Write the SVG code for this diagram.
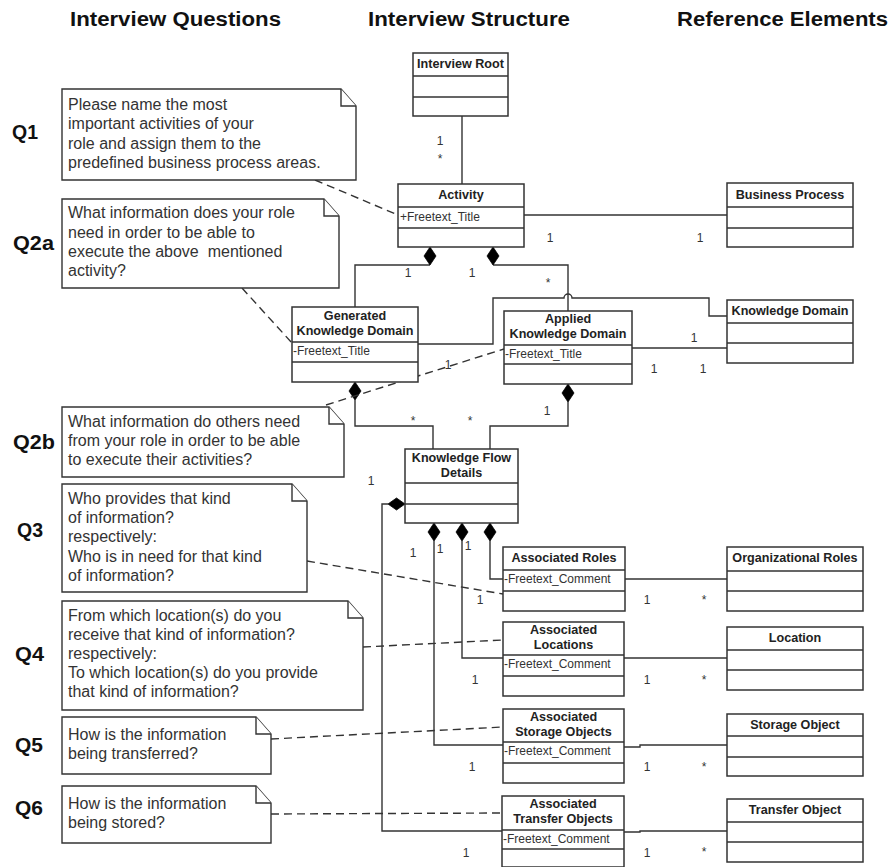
<svg xmlns="http://www.w3.org/2000/svg" width="893" height="867" viewBox="0 0 893 867">
<style>
  .hdr { font-family: "Liberation Sans", Arial, sans-serif; font-weight: bold; font-size: 20px; fill: #111; }
  .q { font-family: "Liberation Sans", Arial, sans-serif; font-weight: bold; font-size: 20px; fill: #111; }
  .nt { font-family: "Liberation Sans", Arial, sans-serif; font-size: 16px; fill: #333; }
  .ttl { font-family: "Liberation Sans", Arial, sans-serif; font-weight: bold; font-size: 12.6px; fill: #222; text-anchor: middle; }
  .att { font-family: "Liberation Sans", Arial, sans-serif; font-size: 12px; fill: #333; }
  .m { font-family: "Liberation Sans", Arial, sans-serif; font-size: 12px; fill: #333; text-anchor: middle; }
  .box { fill: #fff; stroke: #333; stroke-width: 1.5; }
  .div { stroke: #333; stroke-width: 1.5; }
  .note { fill: #fff; stroke: #333; stroke-width: 1.4; stroke-linejoin: miter; }
  .line { fill: none; stroke: #333; stroke-width: 1.4; }
  .dash { fill: none; stroke: #333; stroke-width: 1.4; stroke-dasharray: 8 5; }
  .dia { fill: #000; stroke: #000; stroke-width: 0.8; }
</style>

<!-- headers -->
<g id="headers">
  <text class="hdr" x="70" y="26" textLength="211" lengthAdjust="spacingAndGlyphs">Interview Questions</text>
  <text class="hdr" x="368" y="26" textLength="202" lengthAdjust="spacingAndGlyphs">Interview Structure</text>
  <text class="hdr" x="677" y="26" textLength="211" lengthAdjust="spacingAndGlyphs">Reference Elements</text>
</g>

<!-- question labels -->
<g id="qlabels">
  <text class="q" x="12" y="139" textLength="26" lengthAdjust="spacingAndGlyphs">Q1</text>
  <text class="q" x="13" y="250" textLength="41" lengthAdjust="spacingAndGlyphs">Q2a</text>
  <text class="q" x="13" y="449" textLength="42" lengthAdjust="spacingAndGlyphs">Q2b</text>
  <text class="q" x="17" y="537" textLength="26" lengthAdjust="spacingAndGlyphs">Q3</text>
  <text class="q" x="15" y="661" textLength="29" lengthAdjust="spacingAndGlyphs">Q4</text>
  <text class="q" x="15" y="752" textLength="28" lengthAdjust="spacingAndGlyphs">Q5</text>
  <text class="q" x="15" y="815" textLength="28" lengthAdjust="spacingAndGlyphs">Q6</text>
</g>

<!-- connectors -->
<g id="connectors">
  <path class="line" d="M462,116 V184"/>
  <path class="line" d="M524,215 H727"/>
  <path class="line" d="M430,265 H355 V307"/>
  <path class="line" d="M493,265 H568 V311"/>
  <path class="line" d="M418,344 H493 V298 H564 A4,4 0 0 1 572,298 H709 V316 H727"/>
  <path class="line" d="M632,348 H727"/>
  <path class="line" d="M355,400 V426 H433 V449"/>
  <path class="line" d="M568,402 V426 H490 V449"/>
  <path class="line" d="M490,541 V579 H503"/>
  <path class="line" d="M462,541 V658 H503"/>
  <path class="line" d="M434,541 V745 H503"/>
  <path class="line" d="M388,504 H382 V831 H502"/>
  <path class="line" d="M625,579 H727"/>
  <path class="line" d="M624,658 H727"/>
  <path class="line" d="M624,747 H640 V745 H727"/>
  <path class="line" d="M624,832 H640 V831 H727"/>
  <!-- composition diamonds -->
  <path class="dia" d="M430,247 L436,256 L430,265 L424,256 Z"/>
  <path class="dia" d="M493,247 L499,256 L493,265 L487,256 Z"/>
  <path class="dia" d="M355,382 L361,391 L355,400 L349,391 Z"/>
  <path class="dia" d="M568,384 L574,393 L568,402 L562,393 Z"/>
  <path class="dia" d="M434,523 L440,532 L434,541 L428,532 Z"/>
  <path class="dia" d="M462,523 L468,532 L462,541 L456,532 Z"/>
  <path class="dia" d="M490,523 L496,532 L490,541 L484,532 Z"/>
  <path class="dia" d="M405,504 L396.5,510 L388,504 L396.5,498 Z"/>
  <!-- note anchors -->
  <path class="dash" d="M315,180 L398,215"/>
  <path class="dash" d="M242,288 L292,343"/>
  <path class="dash" d="M326,405 L504,349"/>
  <path class="dash" d="M307,561 L503,594"/>
  <path class="dash" d="M363,647 L503,640"/>
  <path class="dash" d="M271,739 L503,727"/>
  <path class="dash" d="M271,814 L502,813"/>
  <!-- multiplicities -->
  <text class="m" x="440" y="145">1</text>
  <text class="m" x="440" y="163">*</text>
  <text class="m" x="550" y="242">1</text>
  <text class="m" x="700" y="242">1</text>
  <text class="m" x="408" y="277">1</text>
  <text class="m" x="472" y="277">1</text>
  <text class="m" x="548" y="287">*</text>
  <text class="m" x="694" y="342">1</text>
  <text class="m" x="654" y="373">1</text>
  <text class="m" x="703" y="373">1</text>
  <text class="m" x="448" y="369">1</text>
  <text class="m" x="413" y="425">*</text>
  <text class="m" x="470" y="425">*</text>
  <text class="m" x="547" y="415">1</text>
  <text class="m" x="371" y="485">1</text>
  <text class="m" x="413" y="557">1</text>
  <text class="m" x="440" y="553">1</text>
  <text class="m" x="468" y="550">1</text>
  <text class="m" x="480" y="604">1</text>
  <text class="m" x="647" y="604">1</text>
  <text class="m" x="704" y="604">*</text>
  <text class="m" x="475" y="684">1</text>
  <text class="m" x="647" y="684">1</text>
  <text class="m" x="704" y="684">*</text>
  <text class="m" x="472" y="771">1</text>
  <text class="m" x="647" y="771">1</text>
  <text class="m" x="704" y="771">*</text>
  <text class="m" x="466" y="857">1</text>
  <text class="m" x="647" y="857">1</text>
  <text class="m" x="704" y="856">*</text>
</g>

<!-- notes -->
<g id="note-q1">
  <path class="note" d="M62,89 H341 L356,106 V180 H62 Z"/>
  <path class="note" d="M341,89 V106 H356" fill="none"/>
  <text class="nt" x="68" y="110">Please name the most</text>
  <text class="nt" x="68" y="129">important activities of your</text>
  <text class="nt" x="68" y="149">role and assign them to the</text>
  <text class="nt" x="68" y="168">predefined business process areas.</text>
</g>
<g id="note-q2a">
  <path class="note" d="M62,199 H324 L339,216 V288 H62 Z"/>
  <path class="note" d="M324,199 V216 H339" fill="none"/>
  <text class="nt" x="68" y="218">What information does your role</text>
  <text class="nt" x="68" y="238">need in order to be able to</text>
  <text class="nt" x="68" y="257" xml:space="preserve">execute the above  mentioned</text>
  <text class="nt" x="68" y="276">activity?</text>
</g>
<g id="note-q2b">
  <path class="note" d="M62,407 H329 L344,424 V477 H62 Z"/>
  <path class="note" d="M329,407 V424 H344" fill="none"/>
  <text class="nt" x="68" y="427">What information do others need</text>
  <text class="nt" x="68" y="446">from your role in order to be able</text>
  <text class="nt" x="68" y="465">to execute their activities?</text>
</g>
<g id="note-q3">
  <path class="note" d="M62,484 H292 L307,501 V592 H62 Z"/>
  <path class="note" d="M292,484 V501 H307" fill="none"/>
  <text class="nt" x="68" y="504">Who provides that kind</text>
  <text class="nt" x="68" y="523">of information?</text>
  <text class="nt" x="68" y="542">respectively:</text>
  <text class="nt" x="68" y="562">Who is in need for that kind</text>
  <text class="nt" x="68" y="581">of information?</text>
</g>
<g id="note-q4">
  <path class="note" d="M62,601 H348 L363,618 V710 H62 Z"/>
  <path class="note" d="M348,601 V618 H363" fill="none"/>
  <text class="nt" x="68" y="621">From which location(s) do you</text>
  <text class="nt" x="68" y="640">receive that kind of information?</text>
  <text class="nt" x="68" y="659">respectively:</text>
  <text class="nt" x="68" y="678">To which location(s) do you provide</text>
  <text class="nt" x="68" y="697">that kind of information?</text>
</g>
<g id="note-q5">
  <path class="note" d="M62,717 H256 L271,734 V774 H62 Z"/>
  <path class="note" d="M256,717 V734 H271" fill="none"/>
  <text class="nt" x="68" y="740">How is the information</text>
  <text class="nt" x="68" y="759">being transferred?</text>
</g>
<g id="note-q6">
  <path class="note" d="M62,786 H256 L271,803 V843 H62 Z"/>
  <path class="note" d="M256,786 V803 H271" fill="none"/>
  <text class="nt" x="68" y="809">How is the information</text>
  <text class="nt" x="68" y="828">being stored?</text>
</g>

<!-- classes -->
<g id="interview-root">
  <rect class="box" x="413" y="53" width="95" height="63"/>
  <path class="div" d="M413,76 H508 M413,97 H508"/>
  <text class="ttl" x="460.5" y="68">Interview Root</text>
</g>
<g id="activity">
  <rect class="box" x="398" y="184" width="126" height="63"/>
  <path class="div" d="M398,207 H524 M398,228 H524"/>
  <text class="ttl" x="461" y="199">Activity</text>
  <text class="att" x="400" y="221">+Freetext_Title</text>
</g>
<g id="business-process">
  <rect class="box" x="727" y="183" width="126" height="64"/>
  <path class="div" d="M727,207 H853 M727,228 H853"/>
  <text class="ttl" x="790" y="199">Business Process</text>
</g>
<g id="generated-kd">
  <rect class="box" x="292" y="307" width="126" height="75"/>
  <path class="div" d="M292,342 H418 M292,362 H418"/>
  <text class="ttl" x="355" y="320">Generated</text>
  <text class="ttl" x="355" y="335">Knowledge Domain</text>
  <text class="att" x="293" y="355">-Freetext_Title</text>
</g>
<g id="applied-kd">
  <rect class="box" x="504" y="311" width="128" height="73"/>
  <path class="div" d="M504,345 H632 M504,364 H632"/>
  <text class="ttl" x="568" y="323">Applied</text>
  <text class="ttl" x="568" y="338">Knowledge Domain</text>
  <text class="att" x="505" y="358">-Freetext_Title</text>
</g>
<g id="knowledge-domain">
  <rect class="box" x="727" y="300" width="126" height="63"/>
  <path class="div" d="M727,323 H853 M727,343 H853"/>
  <text class="ttl" x="790" y="315">Knowledge Domain</text>
</g>
<g id="knowledge-flow-details">
  <rect class="box" x="405" y="449" width="113" height="74"/>
  <path class="div" d="M405,483 H518 M405,504 H518"/>
  <text class="ttl" x="461.5" y="462">Knowledge Flow</text>
  <text class="ttl" x="461.5" y="477">Details</text>
</g>
<g id="associated-roles">
  <rect class="box" x="503" y="547" width="122" height="64"/>
  <path class="div" d="M503,570 H625 M503,591 H625"/>
  <text class="ttl" x="564" y="562">Associated Roles</text>
  <text class="att" x="504" y="583">-Freetext_Comment</text>
</g>
<g id="associated-locations">
  <rect class="box" x="503" y="622" width="121" height="74"/>
  <path class="div" d="M503,655 H624 M503,676 H624"/>
  <text class="ttl" x="563.5" y="634">Associated</text>
  <text class="ttl" x="563.5" y="649">Locations</text>
  <text class="att" x="504" y="668">-Freetext_Comment</text>
</g>
<g id="associated-storage-objects">
  <rect class="box" x="503" y="709" width="121" height="74"/>
  <path class="div" d="M503,742 H624 M503,763 H624"/>
  <text class="ttl" x="563.5" y="721">Associated</text>
  <text class="ttl" x="563.5" y="736">Storage Objects</text>
  <text class="att" x="504" y="755">-Freetext_Comment</text>
</g>
<g id="associated-transfer-objects">
  <rect class="box" x="502" y="796" width="122" height="71"/>
  <path class="div" d="M502,830 H624 M502,849 H624"/>
  <text class="ttl" x="563" y="808">Associated</text>
  <text class="ttl" x="563" y="823">Transfer Objects</text>
  <text class="att" x="503" y="843">-Freetext_Comment</text>
</g>
<g id="organizational-roles">
  <rect class="box" x="727" y="547" width="136" height="64"/>
  <path class="div" d="M727,571 H863 M727,591 H863"/>
  <text class="ttl" x="795" y="562">Organizational Roles</text>
</g>
<g id="location">
  <rect class="box" x="727" y="627" width="136" height="63"/>
  <path class="div" d="M727,650 H863 M727,670 H863"/>
  <text class="ttl" x="795" y="642">Location</text>
</g>
<g id="storage-object">
  <rect class="box" x="727" y="714" width="136" height="62"/>
  <path class="div" d="M727,736 H863 M727,757 H863"/>
  <text class="ttl" x="795" y="729">Storage Object</text>
</g>
<g id="transfer-object">
  <rect class="box" x="727" y="799" width="136" height="63"/>
  <path class="div" d="M727,822 H863 M727,842 H863"/>
  <text class="ttl" x="795" y="814">Transfer Object</text>
</g>
</svg>
